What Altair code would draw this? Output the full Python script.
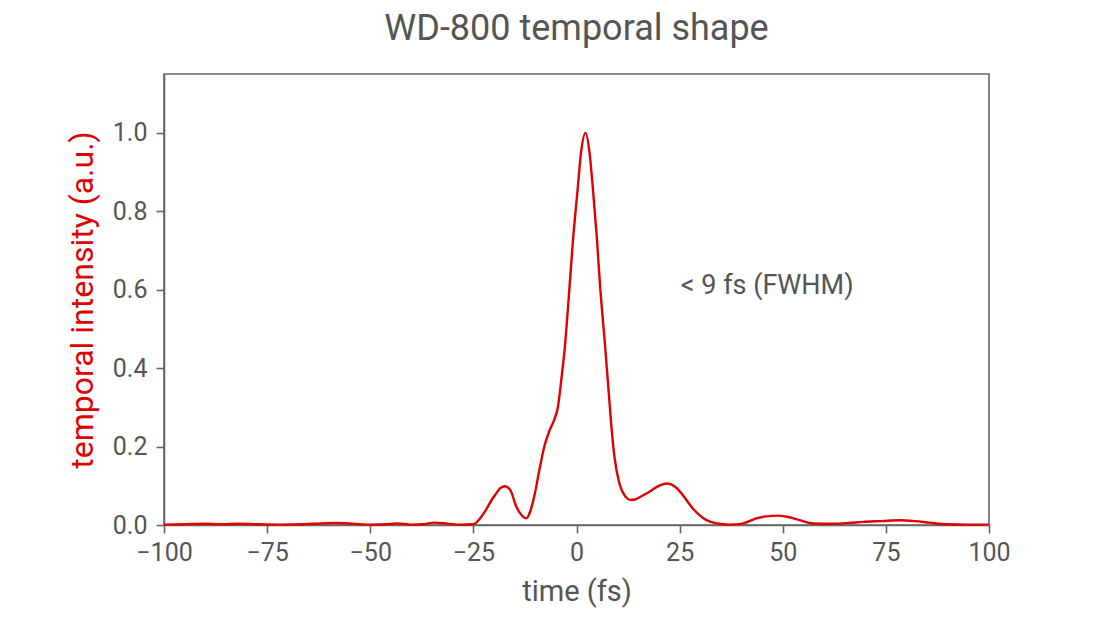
import altair as alt
import pandas as pd

time_fs = [-100, -95, -90, -86, -82, -78, -72, -66, -62, -58, -54, -50, -46, -43.5, -40, -37,
           -34.5, -31, -28, -25, -23.5, -22, -20.5, -19.5, -18.5, -17.3, -16, -14.6, -13.3,
           -12.2, -11.2, -10.2, -9.0, -7.8, -6.5, -5.3, -4.5, -3.7, -2.9, -1.7,
           -0.9, 0.32, 1.1, 2.2, 3.15, 3.95, 4.92, 5.74, 6.79, 7.8, 8.6, 9.2, 10.4, 11.9, 13.0,
           14.2, 15.5, 17.7, 20, 21.9, 24, 25.8, 28.2, 31.4, 34, 37, 40, 43.6, 46, 48.8, 51, 53.3,
           57.3, 62, 66, 69.4, 74, 78.3, 82, 85.6, 89.6, 95, 100]
intensity = [0.001, 0.002, 0.003, 0.002, 0.003, 0.002, 0.001, 0.002, 0.004, 0.005, 0.003, 0.001,
             0.002, 0.004, 0.001, 0.002, 0.006, 0.003, 0.001, 0.002, 0.015, 0.038, 0.065, 0.08,
             0.094, 0.099, 0.088, 0.047, 0.025, 0.017, 0.035, 0.075, 0.14, 0.2, 0.242,
             0.271, 0.301, 0.369, 0.445, 0.606, 0.72, 0.861, 0.95, 1.0, 0.95, 0.861,
             0.734, 0.606, 0.475, 0.34, 0.235, 0.174, 0.106, 0.072, 0.064, 0.065, 0.072, 0.085,
             0.1, 0.106, 0.097, 0.076, 0.042, 0.013, 0.004, 0.001, 0.003, 0.017, 0.022, 0.024,
             0.021, 0.015, 0.004, 0.003, 0.005, 0.008, 0.01, 0.012, 0.01, 0.006, 0.002, 0.001,
             0.001]

x_ticks = [-100, -75, -50, -25, 0, 25, 50, 75, 100]
y_ticks = [0.0, 0.2, 0.4, 0.6, 0.8, 1.0]

annot_text = ["< 9 fs (FWHM)"]
annot_x = [25.3]
annot_y = [0.59]

df = pd.DataFrame({"t": time_fs, "I": intensity})
ann = pd.DataFrame({"t": annot_x, "I": annot_y, "label": annot_text})

FONT = "Roboto"
GRAY = "#555555"
AXC = "#666666"
RED = "#e00000"

x_enc = alt.X("t:Q", scale=alt.Scale(domain=[-100, 100], nice=False),
              axis=alt.Axis(title="time (fs)", values=x_ticks, format="d", grid=False,
                            domainColor=AXC, domainWidth=1.6, tickColor=AXC,
                            tickWidth=1.6, tickSize=8, labelFontSize=25, labelColor=GRAY,
                            labelPadding=7, labelFlush=False, labelOverlap=False,
                            titleFontSize=29, titleColor=GRAY,
                            titleFontWeight="normal", labelFont=FONT, titleFont=FONT,
                            titleX=412.5, titleY=75, titleBaseline="alphabetic",
                            titleAlign="center"))
y_enc = alt.Y("I:Q", scale=alt.Scale(domain=[0, 1.15], nice=False),
              axis=alt.Axis(title="temporal intensity (a.u.)", values=y_ticks, format=".1f",
                            grid=False, domainColor=AXC, domainWidth=1.6,
                            tickColor=AXC, tickWidth=1.6, tickSize=8, labelFontSize=25,
                            labelColor=GRAY, labelPadding=9, labelFlush=False,
                            labelOverlap=False, titleFontSize=32, titleColor=RED,
                            titleFontWeight="normal", labelFont=FONT, titleFont=FONT,
                            titleX=-72, titleY=225.5, titleBaseline="alphabetic",
                            titleAlign="center", titleAngle=270))

line = alt.Chart(df).mark_line(color=RED, strokeWidth=2.4, interpolate="monotone").encode(
    x=x_enc, y=y_enc)

text = alt.Chart(ann).mark_text(align="left", baseline="alphabetic", fontSize=27, color=GRAY,
                                font=FONT).encode(x="t:Q", y="I:Q", text="label:N")

chart = alt.layer(line, text).properties(
    width=825, height=451,
    title=alt.Title("WD-800 temporal shape", fontSize=36, color=GRAY, font=FONT,
                    fontWeight="normal", anchor="middle", offset=26),
    autosize=alt.AutoSizeParams(type="none"),
    padding={"left": 156, "top": 66, "right": 100, "bottom": 85},
).configure_view(stroke=AXC, strokeWidth=1.6)

chart.save("out.html", embed_options={"renderer": "svg", "actions": False})
